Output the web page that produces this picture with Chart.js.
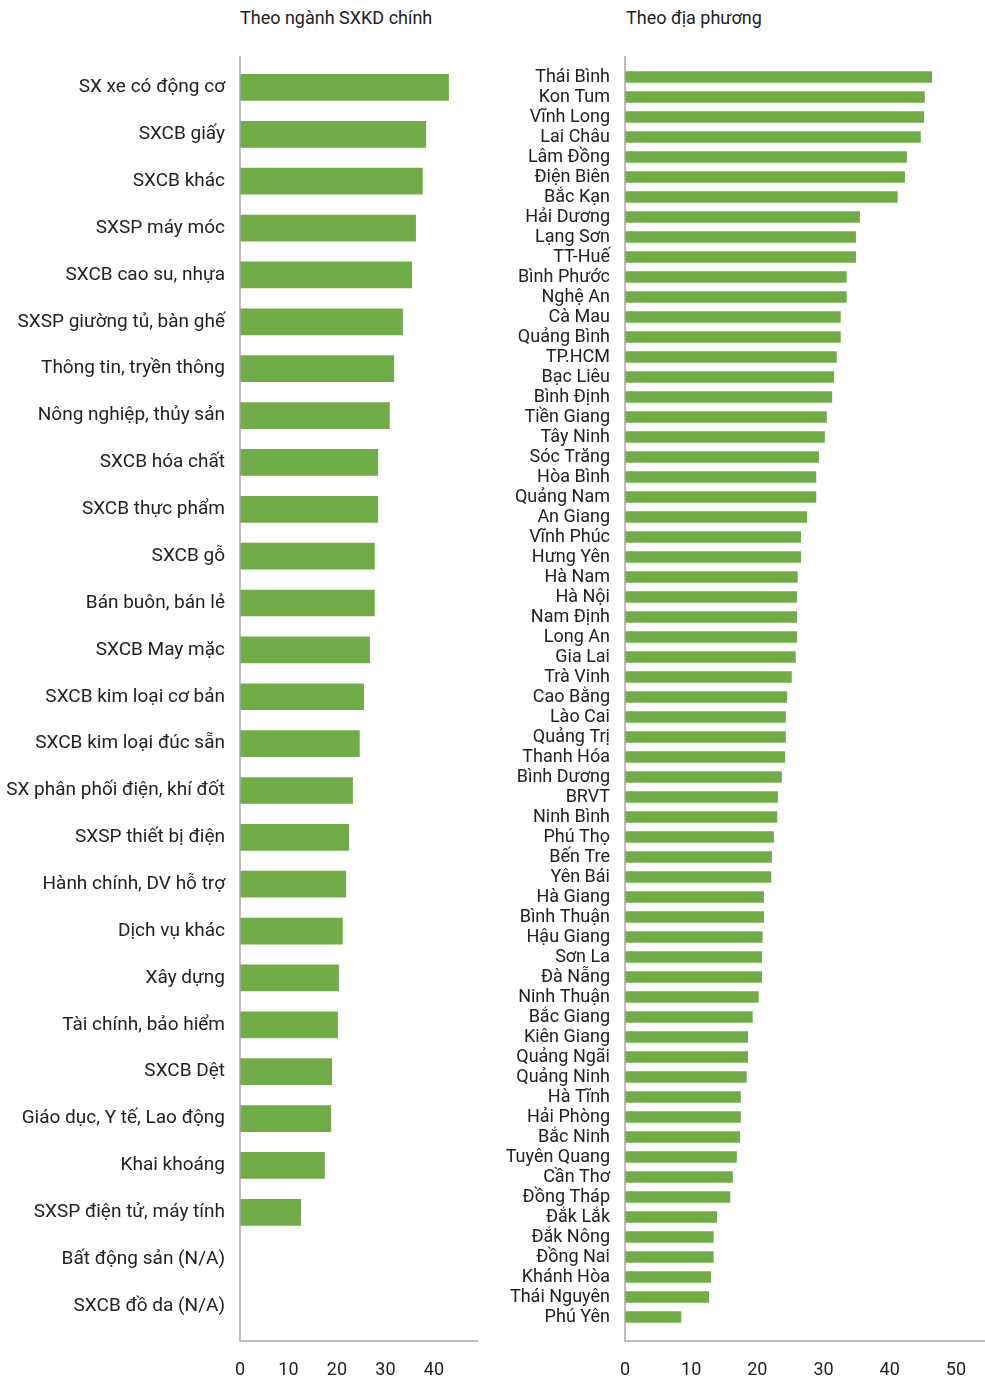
<!DOCTYPE html>
<html>
<head>
<meta charset="utf-8">
<script src="https://cdn.jsdelivr.net/npm/chart.js@4.4.0/dist/chart.umd.min.js"></script>
<style>
  body { margin: 0; background: #fff; width: 985px; height: 1379px; position: relative; overflow: hidden; font-family: Roboto, sans-serif; }
  .wrap { position: absolute; top: 0; height: 1379px; }
  #w1 { left: 0; width: 490px; }
  #w2 { left: 490px; width: 495px; }
  .ttl { position: absolute; top: 7px; font-size: 18px; color: #222; white-space: nowrap; }
</style>
</head>
<body>
<div class="ttl" style="left:240px">Theo ngành SXKD chính</div>
<div class="ttl" style="left:626px">Theo địa phương</div>
<div class="wrap" id="w1"><canvas id="c1" width="490" height="1379"></canvas></div>
<div class="wrap" id="w2"><canvas id="c2" width="495" height="1379"></canvas></div>
<script>
const sectorLabels = [
  "SX xe có động cơ", "SXCB giấy", "SXCB khác", "SXSP máy móc", "SXCB cao su, nhựa",
  "SXSP giường tủ, bàn ghế", "Thông tin, tryền thông", "Nông nghiệp, thủy sản", "SXCB hóa chất",
  "SXCB thực phẩm", "SXCB gỗ", "Bán buôn, bán lẻ", "SXCB May mặc", "SXCB kim loại cơ bản",
  "SXCB kim loại đúc sẵn", "SX phân phối điện, khí đốt", "SXSP thiết bị điện", "Hành chính, DV hỗ trợ",
  "Dịch vụ khác", "Xây dựng", "Tài chính, bảo hiểm", "SXCB Dệt", "Giáo dục, Y tế, Lao động",
  "Khai khoáng", "SXSP điện tử, máy tính", "Bất động sản (N/A)", "SXCB đồ da (N/A)"
];
const sectorValues = [
  43.1, 38.4, 37.7, 36.3, 35.5, 33.6, 31.8, 30.9, 28.5, 28.5, 27.8, 27.8, 26.8, 25.6,
  24.7, 23.3, 22.5, 21.9, 21.2, 20.4, 20.2, 19.0, 18.8, 17.5, 12.6, null, null
];
const sectorTicks = [0, 10, 20, 30, 40];

const provinceLabels = [
  "Thái Bình", "Kon Tum", "Vĩnh Long", "Lai Châu", "Lâm Đồng", "Điện Biên", "Bắc Kạn",
  "Hải Dương", "Lạng Sơn", "TT-Huế", "Bình Phước", "Nghệ An", "Cà Mau", "Quảng Bình",
  "TP.HCM", "Bạc Liêu", "Bình Định", "Tiền Giang", "Tây Ninh", "Sóc Trăng", "Hòa Bình",
  "Quảng Nam", "An Giang", "Vĩnh Phúc", "Hưng Yên", "Hà Nam", "Hà Nội", "Nam Định",
  "Long An", "Gia Lai", "Trà Vinh", "Cao Bằng", "Lào Cai", "Quảng Trị", "Thanh Hóa",
  "Bình Dương", "BRVT", "Ninh Bình", "Phú Thọ", "Bến Tre", "Yên Bái", "Hà Giang",
  "Bình Thuận", "Hậu Giang", "Sơn La", "Đà Nẵng", "Ninh Thuận", "Bắc Giang", "Kiên Giang",
  "Quảng Ngãi", "Quảng Ninh", "Hà Tĩnh", "Hải Phòng", "Bắc Ninh", "Tuyên Quang", "Cần Thơ",
  "Đồng Tháp", "Đắk Lắk", "Đắk Nông", "Đồng Nai", "Khánh Hòa", "Thái Nguyên", "Phú Yên"
];
const provinceValues = [
  46.4, 45.3, 45.2, 44.7, 42.6, 42.3, 41.2, 35.5, 34.9, 34.9, 33.5, 33.5, 32.6, 32.6,
  32.0, 31.6, 31.3, 30.5, 30.2, 29.3, 28.9, 28.9, 27.5, 26.6, 26.6, 26.1, 26.0, 26.0,
  26.0, 25.8, 25.2, 24.5, 24.3, 24.3, 24.2, 23.7, 23.1, 23.0, 22.5, 22.2, 22.1, 21.0,
  21.0, 20.8, 20.7, 20.7, 20.2, 19.3, 18.6, 18.6, 18.4, 17.5, 17.5, 17.4, 16.9, 16.3,
  15.9, 13.9, 13.4, 13.4, 13.0, 12.7, 8.5
];
const provinceTicks = [0, 10, 20, 30, 40, 50];

Chart.defaults.font.family = "Roboto, sans-serif";
Chart.defaults.color = "#222";

// axis lines stick out a bit past the bars, like in the original
const axisLines = {
  id: "axisLines",
  afterDraw(chart, args, opts) {
    const { ctx, chartArea: a } = chart;
    ctx.save();
    ctx.strokeStyle = "#a6a6a6";
    ctx.lineWidth = 1.5;
    ctx.beginPath();
    ctx.moveTo(a.left, a.top - opts.up);
    ctx.lineTo(a.left, a.bottom + opts.down);
    ctx.lineTo(a.right, a.bottom + opts.down);
    ctx.stroke();
    ctx.restore();
  }
};

function makeChart(id, labels, values, ticks, cfg) {
  return new Chart(document.getElementById(id), {
    type: "bar",
    data: {
      labels: labels,
      datasets: [{
        data: values,
        backgroundColor: "#70ad47",
        categoryPercentage: 1,
        barPercentage: cfg.bar
      }]
    },
    plugins: [axisLines],
    options: {
      indexAxis: "y",
      responsive: false,
      animation: false,
      layout: { padding: { top: cfg.top, right: cfg.right, left: 0, bottom: 0 } },
      plugins: {
        legend: { display: false },
        tooltip: { enabled: false },
        axisLines: { up: cfg.up, down: cfg.down }
      },
      scales: {
        x: {
          min: 0,
          max: cfg.max,
          grid: { display: false, drawTicks: false },
          border: { display: false },
          ticks: { font: { size: 18 }, padding: cfg.tickPad, color: "#222" },
          afterBuildTicks: s => { s.ticks = ticks.map(v => ({ value: v })); },
          afterFit: s => {
            s.height = cfg.xh;
            s.paddingLeft = 0;
            s.paddingRight = 0;
          }
        },
        y: {
          grid: { display: false, drawTicks: false },
          border: { display: false },
          ticks: { font: { size: cfg.labelSize }, padding: 15, color: "#222", autoSkip: false },
          afterFit: s => { s.width = cfg.yw; }
        }
      }
    }
  });
}

makeChart("c1", sectorLabels, sectorValues, sectorTicks, {
  bar: 0.57, top: 64, right: 12, max: 49.1, xh: 49.5, yw: 240,
  tickPad: 30, labelSize: 19, up: 8, down: 11.5
});

makeChart("c2", provinceLabels, provinceValues, provinceTicks, {
  bar: 0.585, top: 67, right: 0, max: 54.4, xh: 52, yw: 135,
  tickPad: 33, labelSize: 18, up: 11, down: 14
});
</script>
</body>
</html>
